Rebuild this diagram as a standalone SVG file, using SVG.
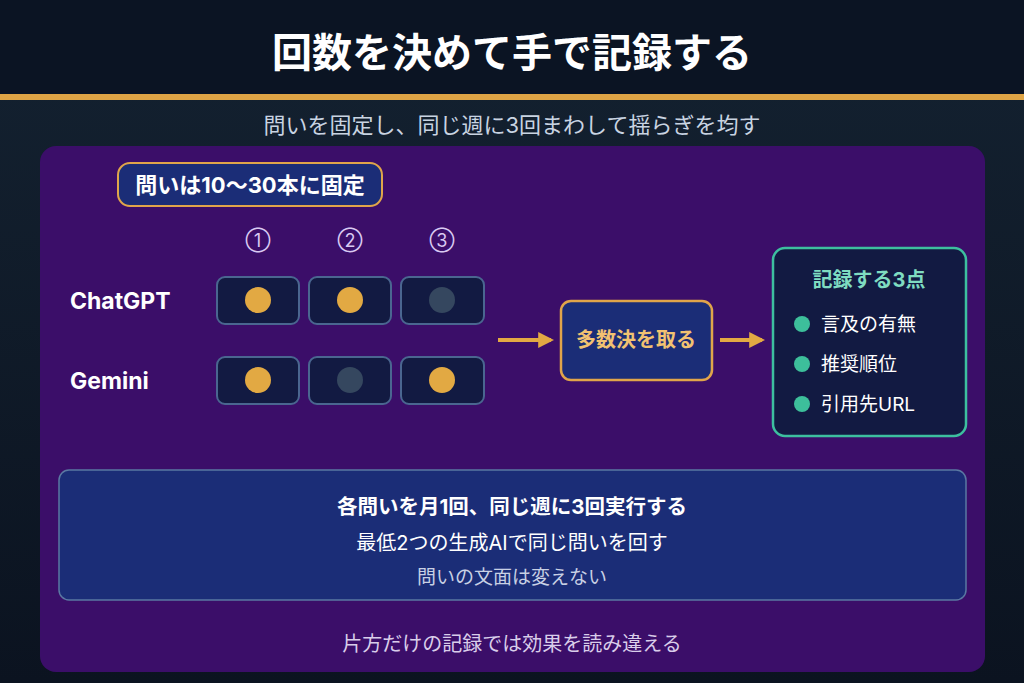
<svg xmlns="http://www.w3.org/2000/svg" width="1024" height="683" viewBox="0 0 1024 683">
<defs>
<style>
text{font-family:Inter,"Noto Sans CJK JP",sans-serif;}
.cell{fill:#121a42;stroke:#4a6690;stroke-width:2;}
.on{fill:#e2a943;}
.off{fill:#35475f;}
.num{fill:#d9c9f2;font-size:18px;text-anchor:middle;}
.lbl{fill:#ffffff;font-size:23px;font-weight:700;}
.bul{fill:#3dbf9b;}
.item{fill:#ffffff;font-size:19px;}
.arr{stroke:#e2a943;stroke-width:4;fill:none;}
</style>
<linearGradient id="bg" x1="0" y1="0" x2="0" y2="1">
<stop offset="0" stop-color="#142231"/>
<stop offset="1" stop-color="#0b1320"/>
</linearGradient>
<marker id="ah" viewBox="0 0 10 10" refX="8" refY="5" markerWidth="4" markerHeight="4" orient="auto" markerUnits="strokeWidth">
<path d="M0,0 L10,5 L0,10 z" fill="#e2a943"/>
</marker>
</defs>
<rect x="0" y="0" width="1024" height="683" fill="url(#bg)"/>
<rect x="0" y="0" width="1024" height="95" fill="#0b1423"/>
<rect x="0" y="94" width="1024" height="6" fill="#dfa445"/>
<text x="512" y="67" font-size="40" font-weight="700" fill="#ffffff" text-anchor="middle">回数を決めて手で記録する</text>
<text x="512" y="133" font-size="22" fill="#c9d4e2" text-anchor="middle">問いを固定し、同じ週に3回まわして揺らぎを均す</text>
<rect x="40" y="146" width="945" height="526" rx="16" fill="#3b0e69"/>

<g id="tag">
<rect x="118" y="163" width="264" height="43" rx="12" fill="#1b2d77" stroke="#e0a54a" stroke-width="2"/>
<text x="250" y="193" font-size="22" font-weight="700" fill="#ffffff" text-anchor="middle">問いは10〜30本に固定</text>
</g>

<g id="run-labels">
<text class="num" x="258" y="247">①</text>
<text class="num" x="350" y="247">②</text>
<text class="num" x="442" y="247">③</text>
</g>

<g id="chatgpt">
<text class="lbl" x="70" y="309">ChatGPT</text>
<rect class="cell" x="217" y="277" width="82" height="47" rx="8"/>
<circle class="on" cx="258" cy="300" r="13"/>
<rect class="cell" x="309" y="277" width="82" height="47" rx="8"/>
<circle class="on" cx="350" cy="300" r="13"/>
<rect class="cell" x="401" y="277" width="83" height="47" rx="8"/>
<circle class="off" cx="442" cy="300" r="13"/>
</g>

<g id="gemini">
<text class="lbl" x="70" y="389">Gemini</text>
<rect class="cell" x="217" y="357" width="82" height="47" rx="8"/>
<circle class="on" cx="258" cy="380" r="13"/>
<rect class="cell" x="309" y="357" width="82" height="47" rx="8"/>
<circle class="off" cx="350" cy="380" r="13"/>
<rect class="cell" x="401" y="357" width="83" height="47" rx="8"/>
<circle class="on" cx="442" cy="380" r="13"/>
</g>

<g id="connectors">
<line class="arr" x1="498" y1="340" x2="551" y2="340" marker-end="url(#ah)"/>
<line class="arr" x1="720" y1="340" x2="762" y2="340" marker-end="url(#ah)"/>
</g>

<g id="majority">
<rect x="561" y="301" width="151" height="79" rx="10" fill="#1b2d77" stroke="#e0a54a" stroke-width="2.5"/>
<text x="636" y="347" font-size="20" font-weight="700" fill="#f2c271" text-anchor="middle">多数決を取る</text>
</g>

<g id="record">
<rect x="773" y="248" width="193" height="188" rx="12" fill="#121a42" stroke="#3dbf9f" stroke-width="2.5"/>
<text x="869" y="287" font-size="20" font-weight="700" fill="#7fdcc1" text-anchor="middle">記録する3点</text>
<circle class="bul" cx="802" cy="324" r="8"/>
<text class="item" x="821" y="331">言及の有無</text>
<circle class="bul" cx="802" cy="364" r="8"/>
<text class="item" x="821" y="371">推奨順位</text>
<circle class="bul" cx="802" cy="404" r="8"/>
<text class="item" x="821" y="411">引用先URL</text>
</g>

<g id="rules">
<rect x="59" y="470" width="907" height="130" rx="10" fill="#1b2d77" stroke="#5a78a2" stroke-width="1.5"/>
<text x="512" y="514" font-size="20.5" font-weight="700" fill="#ffffff" text-anchor="middle">各問いを月1回、同じ週に3回実行する</text>
<text x="512" y="550" font-size="20" fill="#ffffff" text-anchor="middle">最低2つの生成AIで同じ問いを回す</text>
<text x="512" y="584" font-size="19" fill="#c8d0e4" text-anchor="middle">問いの文面は変えない</text>
</g>

<text x="512" y="651" font-size="20" fill="#d9cdea" text-anchor="middle">片方だけの記録では効果を読み違える</text>
</svg>
